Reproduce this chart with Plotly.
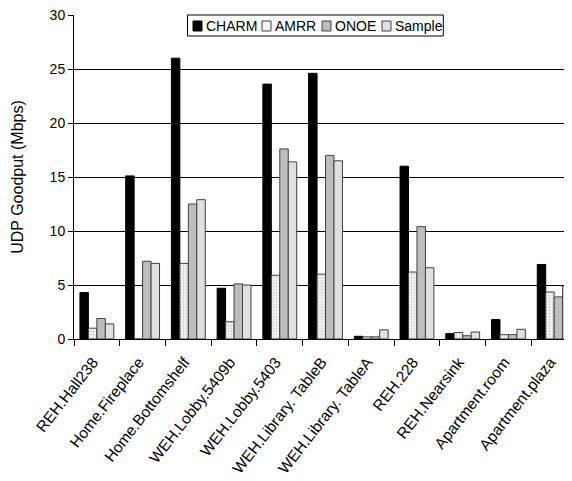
import plotly.graph_objects as go

categories = ["REH.Hall238", "Home.Fireplace", "Home.Bottomshelf", "WEH.Lobby.5409b",
              "WEH.Lobby.5403", "WEH.Library. TableB", "WEH.Library. TableA", "REH.228",
              "REH.Nearsink", "Apartment.room", "Apartment.plaza"]
series_names = ["CHARM", "AMRR", "ONOE", "Sample"]
charm = [4.3, 15.1, 26.0, 4.7, 23.6, 24.6, 0.25, 16.0, 0.5, 1.8, 6.9]
amrr = [1.0, 0.0, 7.0, 1.6, 5.9, 6.0, 0.2, 6.2, 0.6, 0.4, 4.35]
onoe = [1.9, 7.2, 12.5, 5.1, 17.6, 17.0, 0.2, 10.4, 0.3, 0.4, 3.9]
sample = [1.4, 7.0, 12.9, 5.0, 16.4, 16.5, 0.85, 6.6, 0.65, 0.9, 4.9]
y_ticks = [0, 5, 10, 15, 20, 25, 30]

font = "Liberation Sans, Arial, sans-serif"
fills = ["#000000", "#f2f2f2", "#bdbdbd", "#e0e0e0"]
edges = ["#000000", "#404040", "#404040", "#404040"]

fig = go.Figure()
fig.add_bar(name=series_names[0], x=categories, y=charm,
            marker=dict(color=fills[0], line=dict(color=edges[0], width=1)))
fig.add_bar(name=series_names[1], x=categories, y=amrr,
            marker=dict(color="#ffffff", line=dict(color=edges[1], width=1),
                        pattern=dict(shape=".", fgcolor="#a0a0a0", bgcolor="#f6f6f6",
                                     size=3, solidity=0.3)))
fig.add_bar(name=series_names[2], x=categories, y=onoe,
            marker=dict(color=fills[2], line=dict(color=edges[2], width=1)))
fig.add_bar(name=series_names[3], x=categories, y=sample,
            marker=dict(color=fills[3], line=dict(color=edges[3], width=1)))

# page body adds 8px offset; figure sized so plot area lands at the reference spot
W, H = 564, 473
ML, MT, MB = 66, 7, 142
fig.update_layout(
    width=W, height=H,
    margin=dict(l=ML, r=0, t=MT, b=MB),
    paper_bgcolor="white", plot_bgcolor="white",
    barmode="group", bargap=0.26, bargroupgap=0,
    font=dict(family=font, size=14, color="black"),
    showlegend=False,
)

# compact legend box drawn in paper coordinates (plot area 498 x 324 px)
pw, ph = 498.0, 324.0
def px(x):
    return x / pw
def py(y):
    return 1 - y / ph

shapes = [dict(type="rect", xref="paper", yref="paper", layer="above",
               x0=px(113.5), x1=px(369.3), y0=py(21), y1=py(0),
               line=dict(color="black", width=1), fillcolor="white")]
annos = []
sym_x = [119, 188, 248, 308]
for i, name in enumerate(series_names):
    shapes.append(dict(type="rect", xref="paper", yref="paper", layer="above",
                       x0=px(sym_x[i]), x1=px(sym_x[i] + 9), y0=py(16), y1=py(6),
                       line=dict(color=edges[i], width=1), fillcolor=fills[i]))
    annos.append(dict(xref="paper", yref="paper", x=px(sym_x[i] + 11), y=py(11),
                      xanchor="left", yanchor="middle", showarrow=False, text=name,
                      font=dict(size=14, family=font, color="black")))
fig.update_layout(shapes=shapes, annotations=annos)

fig.update_xaxes(range=[-0.5, 10.39], showline=True, linecolor="black", linewidth=1,
                 ticks="outside", ticklen=6, tickcolor="black", tickson="boundaries",
                 tickangle=-52, tickfont=dict(size=15.5), showgrid=False, automargin=False,
                 ticklabelstandoff=7, ticklabelshift=-4)
fig.update_yaxes(range=[0, 30], tickvals=y_ticks, showline=True, linecolor="black",
                 linewidth=1, ticks="outside", ticklen=5, tickcolor="black",
                 showgrid=True, gridcolor="black", gridwidth=1, automargin=False,
                 ticklabeloverflow="allow",
                 title=dict(text="UDP Goodput (Mbps)", font=dict(size=16), standoff=22),
                 tickfont=dict(size=14), zeroline=False)
fig.write_html("out.html")
